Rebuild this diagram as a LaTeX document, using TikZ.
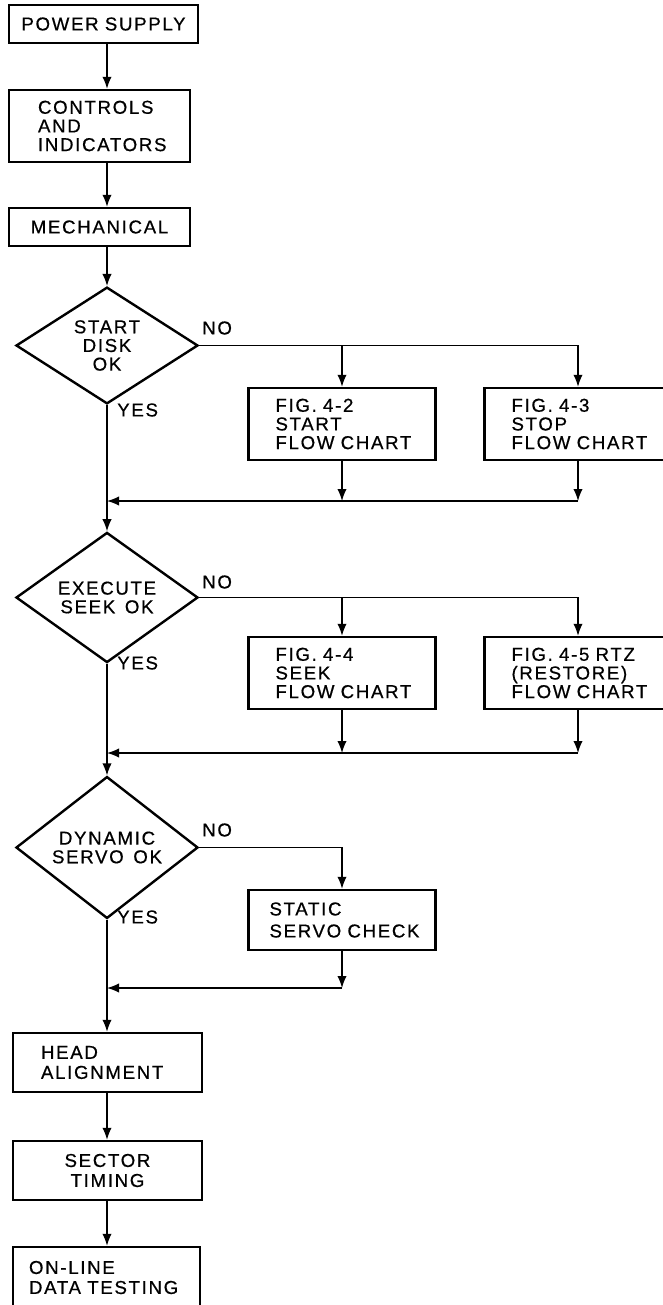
\documentclass[tikz,border=0pt]{standalone}
\usepackage{fontspec}
\newfontfamily\chartfont[LetterSpace=9, WordSpace=1.4, FakeBold=0.6]{Liberation Sans}
\usetikzlibrary{shapes.geometric, arrows.meta}

\begin{document}
\begin{tikzpicture}[x=0.75pt, y=-0.75pt,
  every node/.style={font=\chartfont\fontsize{14}{14}\selectfont},
  blk/.style={draw, line width=1.8pt, inner ysep=0pt},
  dec/.style={draw, diamond, line width=1.8pt, minimum width=136.5pt, minimum height=78.75pt, inner sep=0pt, align=center},
  arr/.style={-{Latex[length=9pt,width=7pt]}, line width=1pt},
  lbl/.style={anchor=west, inner sep=0pt}]
\useasboundingbox (0,0) rectangle (663,1305);
% main column
\node[blk, minimum height=28.5pt, text width=134.25pt, inner xsep=3.75pt, align=center] (psu) at (103.5,24) {POWER SUPPLY};
\node[blk, minimum height=54pt, text width=92.25pt, inner xsep=21.75pt, align=left] (ctrl) at (99.5,126) {CONTROLS\\AND\\INDICATORS};
\node[blk, minimum height=28.5pt, text width=128.25pt, inner xsep=3.75pt, align=center] (mech) at (99.5,227) {MECHANICAL};
\node[dec] (d1) at (107,345.5) {START\\DISK\\OK};
\node[dec] (d2) at (107,597.5) {EXECUTE\\SEEK OK};
\node[dec] (d3) at (107,847.5) {DYNAMIC\\SERVO OK};
\node[blk, minimum height=44.25pt, text width=99.75pt, inner xsep=21pt, align=left, font=\chartfont\fontsize{14}{15}\selectfont] (head) at (107.5,1062.5) {HEAD\\ALIGNMENT};
\node[blk, minimum height=44.25pt, text width=134.25pt, inner xsep=3.75pt, align=center, font=\chartfont\fontsize{14}{15}\selectfont] (sector) at (107.5,1170.5) {SECTOR\\TIMING};
\node[blk, minimum height=45.75pt, text width=116.25pt, inner xsep=12pt, align=left, font=\chartfont\fontsize{14}{15}\selectfont] (online) at (106.5,1277.5) {ON-LINE\\DATA~TESTING};

% side boxes
\node[blk, minimum height=54pt, text width=99.75pt, inner xsep=20.25pt, align=left] (fig42) at (342,424) {FIG. 4-2\\START\\FLOW~CHART};
\node[blk, minimum height=54pt, text width=99.75pt, inner xsep=20.25pt, align=left] (fig43) at (578,424) {FIG. 4-3\\STOP\\FLOW~CHART};
\node[blk, minimum height=54pt, text width=99.75pt, inner xsep=20.25pt, align=left] (fig44) at (342,673) {FIG. 4-4\\SEEK\\FLOW~CHART};
\node[blk, minimum height=54pt, text width=99.75pt, inner xsep=20.25pt, align=left] (fig45) at (578,673) {FIG. 4-5~RTZ\\(RESTORE)\\FLOW~CHART};
\node[blk, minimum height=45pt, text width=108.75pt, inner xsep=15.75pt, align=left, font=\chartfont\fontsize{14}{16.5}\selectfont] (static) at (342,920) {STATIC\\SERVO~CHECK};

\coordinate (j1) at (107,501);
\coordinate (j2) at (107,753);
\coordinate (j3) at (107,988);

\draw[arr] (psu.south -| d1.north) -- (ctrl.north -| d1.north);
\draw[arr] (ctrl.south -| d1.north) -- (mech.north -| d1.north);
\draw[arr] (mech.south -| d1.north) -- (d1.north);

% start disk
\draw[arr] (d1.east) -| (fig43.north);
\draw[arr] (d1.east -| fig42.north) -- (fig42.north);
\draw[arr] (fig42.south) -- (fig42.south |- j1);
\draw[arr] (fig43.south) -- (fig43.south |- j1);
\draw[arr] (fig43.south |- j1) -- (j1);
\draw[arr] (d1.south) -- (d2.north);
\node[lbl] (no1) at (202,328) {NO};
\node[lbl] (yes1) at (117,410) {YES};

% execute seek
\draw[arr] (d2.east) -| (fig45.north);
\draw[arr] (d2.east -| fig44.north) -- (fig44.north);
\draw[arr] (fig44.south) -- (fig44.south |- j2);
\draw[arr] (fig45.south) -- (fig45.south |- j2);
\draw[arr] (fig45.south |- j2) -- (j2);
\draw[arr] (d2.south) -- (d3.north);
\node[lbl] (no2) at (202,582) {NO};
\node[lbl] (yes2) at (117,663) {YES};

% dynamic servo
\draw[arr] (d3.east) -| (static.north);
\draw[arr] (static.south) -- (static.south |- j3);
\draw[arr] (static.south |- j3) -- (j3);
\draw[arr] (d3.south) -- (head.north -| d3.south);
\node[lbl] (no3) at (202,830) {NO};
\node[lbl] (yes3) at (117,917) {YES};

\draw[arr] (head.south -| d3.south) -- (sector.north -| d3.south);
\draw[arr] (sector.south -| d3.south) -- (online.north -| d3.south);
\end{tikzpicture}
\end{document}
